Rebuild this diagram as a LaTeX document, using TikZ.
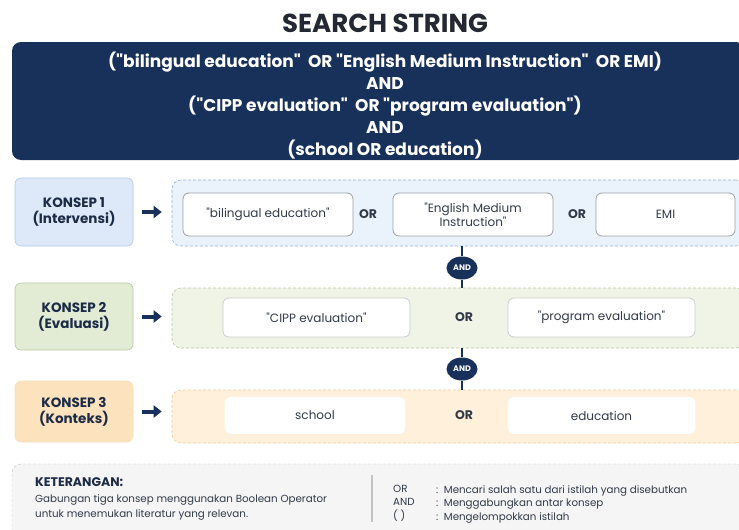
\documentclass[tikz,border=0pt]{standalone}
\usepackage{fontspec}
\defaultfontfeatures[\rmfamily]{}
\setmainfont{Poppins}
\usetikzlibrary{shapes.geometric,arrows.meta,positioning}
\definecolor{navy}{RGB}{24,49,90}
\definecolor{navytext}{RGB}{28,43,70}
\definecolor{titletext}{RGB}{36,40,50}
\definecolor{termtext}{RGB}{50,58,72}
\definecolor{blueA}{RGB}{221,233,248}
\definecolor{blueB}{RGB}{234,242,252}
\definecolor{blueL}{RGB}{150,178,215}
\definecolor{greenA}{RGB}{226,235,212}
\definecolor{greenB}{RGB}{239,244,231}
\definecolor{greenL}{RGB}{185,200,165}
\definecolor{orangeA}{RGB}{253,226,190}
\definecolor{orangeB}{RGB}{254,240,218}
\definecolor{orangeL}{RGB}{240,205,150}
\definecolor{legendbg}{RGB}{245,245,245}
\definecolor{legendL}{RGB}{195,195,195}
\begin{document}
\begin{tikzpicture}[x=1pt, y=-1pt,
    konsep/.style={draw, rounded corners=6pt, minimum width=118pt, align=center, font=\fontsize{13.5}{16}\selectfont\bfseries, text=navytext, line width=0.6pt},
    group/.style={draw, dashed, dash pattern=on 3pt off 2pt, rounded corners=9pt, minimum width=573pt, line width=0.6pt},
    term/.style={draw, fill=white, rounded corners=6pt, align=center, font=\fontsize{12}{14}\selectfont, text=termtext, line width=0.8pt},
    orop/.style={font=\fontsize{12.5}{14}\selectfont\bfseries, text=termtext},
    andop/.style={ellipse, fill=navy, text=white, inner sep=0pt, minimum width=31pt, minimum height=23pt, font=\fontsize{8}{9}\selectfont\bfseries},
    arrow/.style={-{Triangle[length=8pt, width=12pt]}, line width=4pt, draw=navy, shorten <=9pt, shorten >=10pt},
    link/.style={draw=navy, line width=1.5pt}]

    \useasboundingbox (0,0) rectangle (739,530);
    \fill[white] (0,0) rectangle (739,530);

    % title and full search string
    \node[font=\fontsize{26}{28}\selectfont\bfseries, text=titletext] (title) at (385,23) {SEARCH STRING};
    \node[fill=navy, rounded corners=9pt, minimum width=733pt, minimum height=118pt] (string) at (378.5,101) {};
    \node[text=white, align=center, font=\fontsize{17}{22}\selectfont\bfseries] (stringtext) at (385,106)
        {("bilingual education"\ \ OR "English Medium Instruction"\ \ OR EMI)\\ AND\\ ("CIPP evaluation"\ \ OR "program evaluation")\\ AND\\ (school OR education)};

    % concept rows
    \node[konsep, fill=blueA, draw=blueL!70, minimum height=68pt] (k1) at (74,212) {KONSEP 1\\ (Intervensi)};
    \node[group, fill=blueB, draw=blueL, minimum height=66pt] (g1) at (458.5,213) {};
    \node[term, draw=gray!75, minimum width=170pt, minimum height=43pt] (t11) at (268,214.5) {"bilingual education"};
    \node[orop] (or11) at (368,214.5) {OR};
    \node[term, draw=gray!75, minimum width=160pt, minimum height=43pt] (t12) at (473,214.5) {"English Medium\\ Instruction"};
    \node[orop] (or12) at (577,214.5) {OR};
    \node[term, draw=gray!75, minimum width=139pt, minimum height=43pt] (t13) at (665.5,214.5) {EMI};

    \node[konsep, fill=greenA, draw=greenL, minimum height=67pt] (k2) at (74,316.5) {KONSEP 2\\ (Evaluasi)};
    \node[group, fill=greenB, draw=greenL, minimum height=60pt] (g2) at (458.5,318) {};
    \node[term, draw=gray!40, minimum width=187pt, minimum height=39pt] (t21) at (316.5,317.5) {"CIPP evaluation"};
    \node[orop] (or21) at (464,317.5) {OR};
    \node[term, draw=gray!40, minimum width=187pt, minimum height=39pt] (t22) at (601.5,317.5) {"program evaluation"};

    \node[konsep, fill=orangeA, draw=orangeL!60, minimum height=61pt] (k3) at (74,411.5) {KONSEP 3\\ (Konteks)};
    \node[group, fill=orangeB, draw=orangeL, minimum height=53pt] (g3) at (458.5,416.5) {};
    \node[term, draw=white, minimum width=180pt, minimum height=36pt] (t31) at (315,415.5) {school};
    \node[orop] (or31) at (464,415.5) {OR};
    \node[term, draw=white, minimum width=187pt, minimum height=36pt] (t32) at (601.5,415.5) {education};

    \draw[arrow] (k1) -- (k1 -| g1.west);
    \draw[arrow] (k2) -- (k2 -| g2.west);
    \draw[arrow] (k3) -- (k3 -| g3.west);

    % AND links between rows
    \node[andop] (and1) at (462,268) {AND};
    \node[andop] (and2) at (462,369) {AND};
    \draw[link] (and1.north) -- (and1 |- g1.south);
    \draw[link] (and1.south) -- (and1 |- g2.north);
    \draw[link] (and2.north) -- (and2 |- g2.south);
    \draw[link] (and2.south) -- (and2 |- g3.north);

    % legend
    \node[draw=legendL, fill=legendbg, dashed, dash pattern=on 3pt off 2pt, rounded corners=9pt, minimum width=733pt, minimum height=90pt] (legend) at (378.5,509) {};
    \node[anchor=west, inner sep=0pt, font=\fontsize{12.5}{14}\selectfont\bfseries, text=navytext] (legtitle) at (35,482) {KETERANGAN:};
    \node[anchor=north west, align=left, font=\fontsize{10.3}{15}\selectfont, text=termtext, inner sep=0pt] (legtext) at (35,494)
        {Gabungan tiga konsep menggunakan Boolean Operator\\ untuk menemukan literatur yang relevan.};
    \coordinate (sepA) at (372,475);
    \coordinate (sepB) at (372,522);
    \draw[legendL, line width=1.2pt] (sepA) -- (sepB);
    \node[anchor=north west, align=left, font=\fontsize{10.3}{13.5}\selectfont, text=termtext, inner sep=0pt] (legops) at (393,485)
        {OR\\ AND\\ ( )};
    \node[anchor=north west, align=left, font=\fontsize{10.3}{13.5}\selectfont, text=termtext, inner sep=0pt] (legdesc) at (436,485)
        {:\ \ Mencari salah satu dari istilah yang disebutkan\\ :\ \ Menggabungkan antar konsep\\ :\ \ Mengelompokkan istilah};
\end{tikzpicture}
\end{document}
